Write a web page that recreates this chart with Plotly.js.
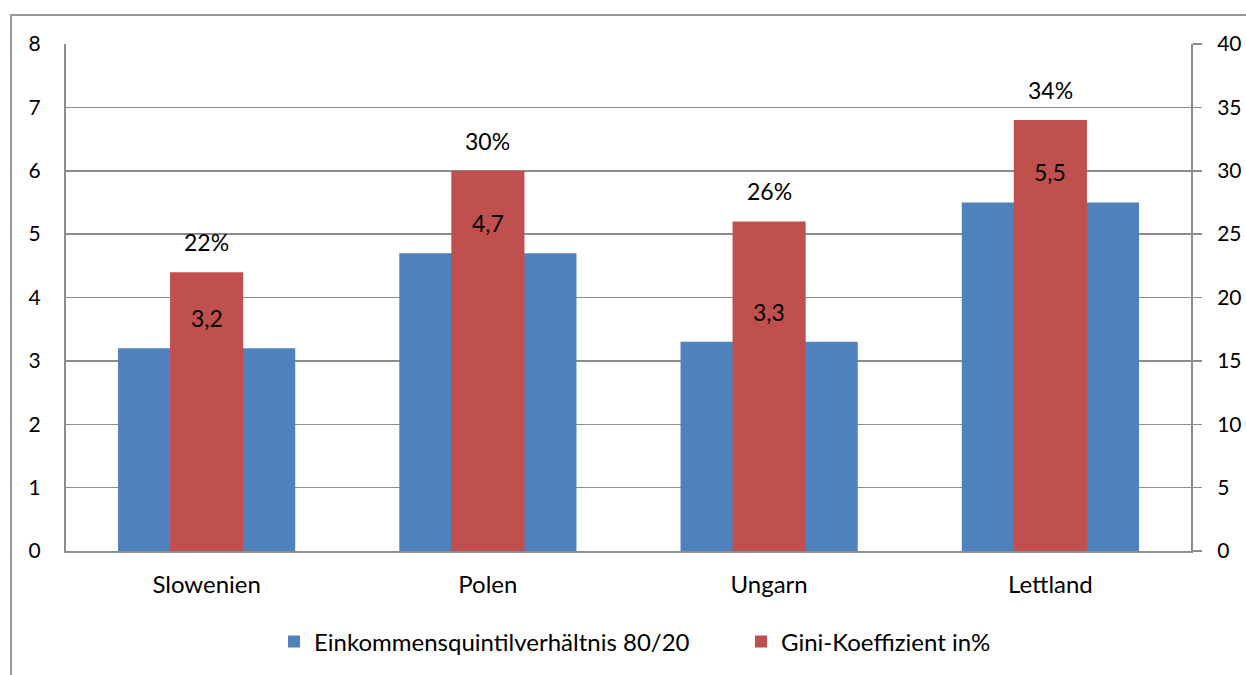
<!DOCTYPE html>
<html><head><meta charset="utf-8">
<script src="https://cdn.plot.ly/plotly-3.0.1.min.js"></script>
<style>
html,body{margin:0;padding:0;background:#fff;}
#chart{width:1246px;height:675px;position:absolute;left:0;top:0;}
#frame{position:absolute;left:10px;top:14px;width:1250px;height:700px;border-left:2px solid #9a9a9a;border-top:2px solid #9a9a9a;pointer-events:none;}
</style></head>
<body>
<div id="chart"></div>
<div id="frame"></div>
<script>
const categories = ['Slowenien','Polen','Ungarn','Lettland'];
const ratio8020 = [3.2, 4.7, 3.3, 5.5];
const gini = [22, 30, 26, 34];
const seriesNames = ['Einkommensquintilverhältnis 80/20','Gini-Koeffizient in%'];

const FONT = 'Lato, "Open Sans", sans-serif';
const blue = '#4F81BD', red = '#C0504D', grid = '#8c8c8c';

const traces = [
  {type:'bar', name:seriesNames[0], x:categories, y:ratio8020, width:0.63,
   marker:{color:blue}, xaxis:'x', yaxis:'y', hoverinfo:'none'},
  {type:'bar', name:seriesNames[1], x:categories, y:gini, width:0.26,
   marker:{color:red}, xaxis:'x', yaxis:'y2', hoverinfo:'none'}
];

const annotations = [];
categories.forEach((c,i)=>{
  annotations.push({x:c, y:ratio8020[i], xref:'x', yref:'y', text:ratio8020[i].toFixed(1).replace('.',','),
    showarrow:false, yanchor:'bottom', yshift:14, font:{family:FONT,size:23,color:'#000'}});
  annotations.push({x:c, y:gini[i], xref:'x', yref:'y2', text:gini[i]+'%',
    showarrow:false, yanchor:'bottom', yshift:14, font:{family:FONT,size:23,color:'#000'}});
});

const layout = {
  width:1246, height:675,
  margin:{l:66, r:55, t:44, b:123},
  paper_bgcolor:'#fff', plot_bgcolor:'#fff',
  barmode:'overlay',
  font:{family:FONT, size:21, color:'#000'},
  showlegend:true,
  legend:{orientation:'h', x:0.6, xanchor:'center', y:-0.177, yanchor:'middle',
    font:{family:FONT,size:24,color:'#000'}, entrywidth:422, itemclick:false},
  xaxis:{type:'category', range:[-0.5,3.5], showgrid:false, showline:true, linecolor:grid, linewidth:2,
    ticks:'', tickfont:{family:FONT,size:24}, ticklen:0, ticklabelstandoff:11, fixedrange:true, zeroline:false},
  yaxis:{range:[0,8], dtick:1, showgrid:true, gridcolor:grid, gridwidth:1.5, showline:true, linecolor:grid, linewidth:2,
    ticks:'', tickfont:{family:FONT,size:21}, ticklabelstandoff:19, zeroline:false, fixedrange:true},
  yaxis2:{range:[0,40], dtick:5, overlaying:'y', side:'right', showgrid:false, showline:true, linecolor:grid, linewidth:2,
    ticks:'outside', ticklen:9, tickwidth:1.5, tickcolor:grid, tickfont:{family:FONT,size:21}, ticklabelstandoff:11, zeroline:false, fixedrange:true},
  annotations:annotations
};

Plotly.newPlot('chart', traces, layout, {displayModeBar:false, staticPlot:true});
</script>
</body></html>
